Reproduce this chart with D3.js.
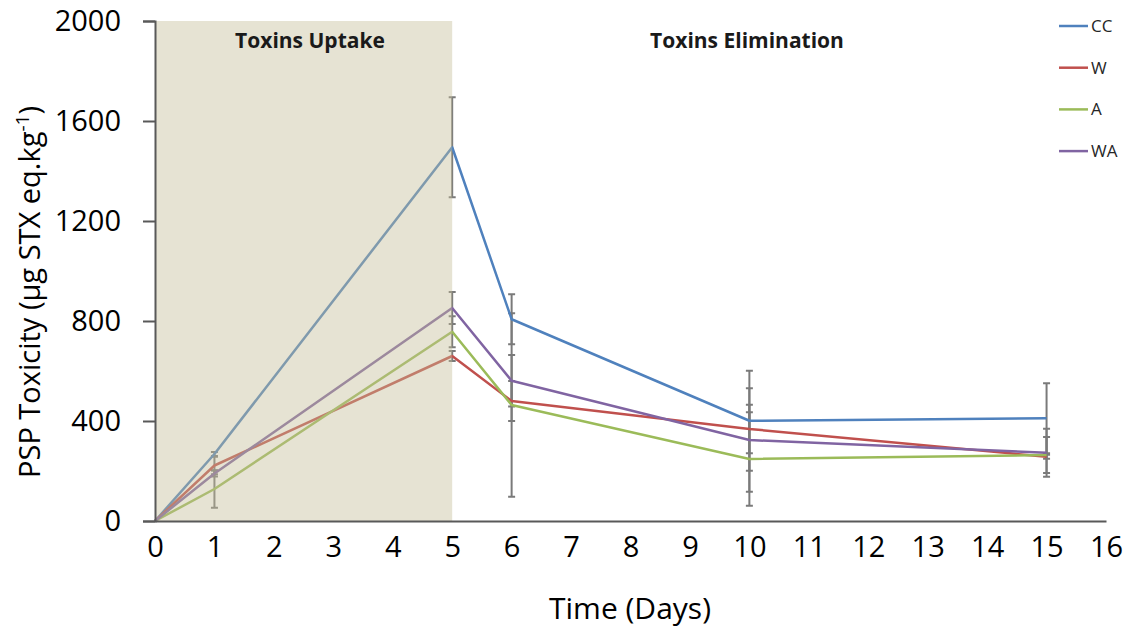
<!DOCTYPE html>
<html>
<head>
<meta charset="utf-8">
<script src="https://cdn.jsdelivr.net/npm/d3@7"></script>
<style>
  html, body { margin: 0; padding: 0; background: #fff; }
  svg { display: block; font-family: "Open Sans", "Liberation Sans", sans-serif; }
</style>
</head>
<body>
<svg id="chart" width="1129" height="631"></svg>
<script>
// Sampling days
const days = [0, 1, 5, 6, 10, 15];

// Mean PSP toxicity (µg STX eq.kg-1) per treatment
const ccValues = [0, 268, 1495, 807, 401, 411];
const wValues  = [0, 222, 660, 480, 368, 257];
const aValues  = [0, 128, 757, 464, 248, 264];
const waValues = [0, 190, 852, 561, 324, 273];

// Error bar half-widths (±) per treatment
const ccErrors = [0, 8, 200, 100, 200, 140];
const wErrors  = [0, 35, 20, 80, 97, 8];
const aErrors  = [0, 75, 62, 367, 187, 72];
const waErrors = [0, 12, 64, 103, 207, 96];

const seriesNames = ["CC", "W", "A", "WA"];
const seriesColors = ["#4F81BD", "#C0504D", "#9BBB59", "#8064A2"];

const xTicks = d3.range(0, 17);
const yTicks = [0, 400, 800, 1200, 1600, 2000];

const phaseLabels = ["Toxins Uptake", "Toxins Elimination"];
const uptakeEnd = 5;

const series = [
  { name: seriesNames[0], values: ccValues, errors: ccErrors, color: seriesColors[0] },
  { name: seriesNames[1], values: wValues,  errors: wErrors,  color: seriesColors[1] },
  { name: seriesNames[2], values: aValues,  errors: aErrors,  color: seriesColors[2] },
  { name: seriesNames[3], values: waValues, errors: waErrors, color: seriesColors[3] }
];

const svg = d3.select("#chart");
const margin = { left: 155, right: 23, top: 21, bottom: 110 };
const W = 1129, H = 631;

const x = d3.scaleLinear().domain([0, 16]).range([margin.left, W - margin.right]);
const y = d3.scaleLinear().domain([0, 2000]).range([H - margin.bottom, margin.top]);

// Error bars
const errG = svg.append("g");
series.forEach(s => {
  days.forEach((d, i) => {
    const e = s.errors[i];
    if (!e) return;
    const cx = x(d), y0 = y(s.values[i] - e), y1 = y(s.values[i] + e);
    errG.append("line").attr("x1", cx).attr("x2", cx).attr("y1", y0).attr("y2", y1)
      .attr("stroke", "#7a7a7a").attr("stroke-width", 2);
    [y0, y1].forEach(yy => errG.append("line")
      .attr("x1", cx - 3.5).attr("x2", cx + 3.5).attr("y1", yy).attr("y2", yy)
      .attr("stroke", "#7a7a7a").attr("stroke-width", 2));
  });
});

// Series lines
const line = d3.line().x((d, i) => x(days[i])).y(d => y(d));
series.forEach(s => {
  svg.append("path").datum(s.values).attr("d", line)
    .attr("fill", "none").attr("stroke", s.color).attr("stroke-width", 2.5)
    .attr("stroke-linejoin", "round");
});

// Uptake phase band, translucent over the data
svg.append("rect")
  .attr("x", x(0)).attr("y", y(2000))
  .attr("width", x(uptakeEnd) - x(0)).attr("height", y(0) - y(2000))
  .attr("fill", "#C4BD97").attr("fill-opacity", 0.42);

// Phase labels
svg.append("text").attr("x", 310).attr("y", 48)
  .attr("text-anchor", "middle").attr("font-weight", "bold").attr("font-size", 21)
  .attr("fill", "#1a1a1a").text(phaseLabels[0]);
svg.append("text").attr("x", 747).attr("y", 48)
  .attr("text-anchor", "middle").attr("font-weight", "bold").attr("font-size", 21)
  .attr("fill", "#1a1a1a").text(phaseLabels[1]);

// Y axis
const yAxis = svg.append("g").attr("transform", `translate(${x(0)},0)`)
  .call(d3.axisLeft(y).tickValues(yTicks).tickSize(12).tickPadding(22).tickFormat(d3.format("d")));
yAxis.select(".domain").attr("stroke", "#595959").attr("stroke-width", 2);
yAxis.selectAll(".tick line").attr("stroke", "#595959").attr("stroke-width", 2);
yAxis.selectAll(".tick text").attr("font-size", 29).attr("fill", "#000")
  .attr("font-family", "'Open Sans', sans-serif");

// X axis
const xAxis = svg.append("g").attr("transform", `translate(0,${y(0)})`)
  .call(d3.axisBottom(x).tickValues(xTicks).tickSize(0).tickPadding(15).tickFormat(d3.format("d")));
xAxis.select(".domain").attr("stroke", "#595959").attr("stroke-width", 2);
xAxis.selectAll(".tick text").attr("font-size", 29).attr("fill", "#000")
  .attr("font-family", "'Open Sans', sans-serif");

// Axis titles
svg.append("text").attr("x", 630).attr("y", 619).attr("text-anchor", "middle")
  .attr("font-size", 30).attr("fill", "#000").text("Time (Days)");

const yTitle = svg.append("text")
  .attr("transform", `translate(40,${292}) rotate(-90)`)
  .attr("text-anchor", "middle").attr("font-size", 29).attr("fill", "#000");
yTitle.append("tspan").text("PSP Toxicity (µg STX eq.kg");
yTitle.append("tspan").attr("dy", -11).attr("font-size", 19).text("-1");
yTitle.append("tspan").attr("dy", 11).text(")");

// Legend
const legend = svg.append("g");
series.forEach((s, i) => {
  const ly = 26 + i * 41.7;
  legend.append("line").attr("x1", 1059).attr("x2", 1088).attr("y1", ly).attr("y2", ly)
    .attr("stroke", s.color).attr("stroke-width", 2.5);
  legend.append("text").attr("x", 1091).attr("y", ly + 6).attr("font-size", 17)
    .attr("fill", "#262626").text(s.name);
});
</script>
</body>
</html>
